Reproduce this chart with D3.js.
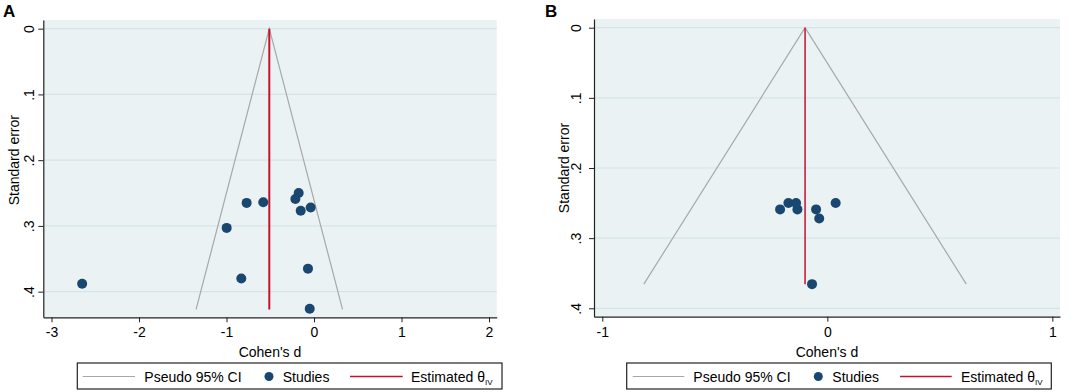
<!DOCTYPE html>
<html>
<head>
<meta charset="utf-8">
<script src="https://cdn.jsdelivr.net/npm/d3@7"></script>
<style>
  body { margin: 0; background: #fff; }
  svg { display: block; font-family: "Liberation Sans", Arial, sans-serif; }
</style>
</head>
<body>
<svg id="chart" width="1084" height="392"></svg>
<script>
// panel A: studies (Cohen's d, standard error)
const studiesA_d = [-2.65, -0.77, -0.58, -0.175, -0.213, -0.038, -0.152, -0.998, -0.831, -0.069, -0.049]
const studiesA_se = [0.388, 0.265, 0.264, 0.250, 0.259, 0.272, 0.277, 0.303, 0.380, 0.365, 0.426]
const thetaA = -0.511
const seMaxA = 0.427
const xTicksA = [-3, -2, -1, 0, 1, 2]

// panel B
const studiesB_d = [-0.210, -0.173, -0.139, -0.133, -0.050, -0.036, 0.037, -0.068]
const studiesB_se = [0.259, 0.250, 0.250, 0.259, 0.259, 0.272, 0.250, 0.3656]
const thetaB = -0.099
const seMaxB = 0.3656
const xTicksB = [-1, 0, 1]

const yTicks = [0, 0.1, 0.2, 0.3, 0.4]
const yTickLabels = ["0", ".1", ".2", ".3", ".4"]
const legendLabels = ["Pseudo 95% CI", "Studies", "Estimated θ"]

const svg = d3.select("#chart")

const drawFunnel = (opts) => {
  const g = svg.append("g")
  const x = d3.scaleLinear().domain(opts.xDomain).range(opts.xRange)
  const y = d3.scaleLinear().domain(opts.yDomain).range(opts.yRange)
  const [x0, x1] = opts.xRange
  const [y0, y1] = opts.yRange

  // plot area
  g.append("rect")
    .attr("x", x0).attr("y", y0)
    .attr("width", x1 - x0).attr("height", y1 - y0)
    .attr("fill", "#eaf2f3")

  // grid
  g.selectAll(".grid")
    .data(yTicks)
    .join("line")
    .attr("x1", x0).attr("x2", x1)
    .attr("y1", (d) => y(d)).attr("y2", (d) => y(d))
    .attr("stroke", "#d6e4ea")
    .attr("stroke-width", 1.2)

  // funnel
  const funnel = [
    [opts.theta - 1.96 * opts.seMax, opts.seMax],
    [opts.theta, 0],
    [opts.theta + 1.96 * opts.seMax, opts.seMax],
  ]
  const line = d3.line().x((d) => x(d[0])).y((d) => y(d[1]))
  g.append("path")
    .attr("d", line(funnel))
    .attr("fill", "none")
    .attr("stroke", "#a8a8a8")
    .attr("stroke-width", 1.2)

  g.append("line")
    .attr("x1", x(opts.theta)).attr("x2", x(opts.theta))
    .attr("y1", y(0)).attr("y2", y(opts.seMax))
    .attr("stroke", "#c8102e")
    .attr("stroke-width", opts.redWidth)

  // studies
  g.selectAll(".study")
    .data(opts.d.map((d, i) => ({ d, se: opts.se[i] })))
    .join("circle")
    .attr("cx", (p) => x(p.d))
    .attr("cy", (p) => y(p.se))
    .attr("r", 5)
    .attr("fill", "#1a476f")

  // x axis
  const xAxis = g.append("g")
    .attr("transform", `translate(0,${y1})`)
    .call(d3.axisBottom(x).tickValues(opts.xTicks).tickSize(5).tickSizeOuter(0).tickFormat(d3.format("d")))
  xAxis.select(".domain").attr("stroke", "#222").attr("stroke-width", 1.2)
  xAxis.selectAll(".tick line").attr("stroke", "#222")
  xAxis.selectAll(".tick text")
    .attr("font-size", 14).attr("fill", "#000")
    .attr("font-family", "Liberation Sans, Arial, sans-serif")
    .attr("dy", "0.85em")
    .text((d) => (d < 0 ? "-" + Math.abs(d) : d))

  // y axis, labels rotated like Stata
  const yAxis = g.append("g")
    .attr("transform", `translate(${x0},0)`)
    .call(d3.axisLeft(y).tickValues(yTicks).tickSize(5).tickSizeOuter(0).tickFormat((d, i) => yTickLabels[i]))
  yAxis.select(".domain").attr("stroke", "#222").attr("stroke-width", 1.2)
  yAxis.selectAll(".tick line").attr("stroke", "#222")
  yAxis.selectAll(".tick text")
    .attr("font-size", 14).attr("fill", "#000")
    .attr("font-family", "Liberation Sans, Arial, sans-serif")
    .attr("x", null).attr("dy", null)
    .attr("text-anchor", "middle")
    .attr("transform", `translate(${-opts.labelOffset},0) rotate(-90)`)

  // axis titles
  g.append("text")
    .attr("x", (x0 + x1) / 2).attr("y", 357)
    .attr("text-anchor", "middle")
    .attr("font-size", 14)
    .text("Cohen's d")

  g.append("text")
    .attr("transform", `translate(${x0 - opts.titleOffset},${(y(0) + y(0.4)) / 2}) rotate(-90)`)
    .attr("text-anchor", "middle")
    .attr("font-size", 14)
    .text("Standard error")

  // panel letter
  g.append("text")
    .attr("x", opts.letterX).attr("y", 17)
    .attr("font-size", 17).attr("font-weight", "bold")
    .text(opts.letter)

  // legend
  const lg = opts.legend
  g.append("rect")
    .attr("x", lg.x0).attr("y", 363)
    .attr("width", lg.x1 - lg.x0).attr("height", 26)
    .attr("fill", "#fff")
    .attr("stroke", "#222")
    .attr("stroke-width", 1.2)
  const ly = 376.5
  g.append("line")
    .attr("x1", lg.grayLine[0]).attr("x2", lg.grayLine[1])
    .attr("y1", ly).attr("y2", ly)
    .attr("stroke", "#a8a8a8").attr("stroke-width", 1.2)
  g.append("text")
    .attr("x", lg.grayText).attr("y", ly + 5)
    .attr("font-size", 14).text(legendLabels[0])
  g.append("circle")
    .attr("cx", lg.dot).attr("cy", ly).attr("r", 4.5)
    .attr("fill", "#1a476f")
  g.append("text")
    .attr("x", lg.dotText).attr("y", ly + 5)
    .attr("font-size", 14).text(legendLabels[1])
  g.append("line")
    .attr("x1", lg.redLine[0]).attr("x2", lg.redLine[1])
    .attr("y1", ly).attr("y2", ly)
    .attr("stroke", "#c8102e").attr("stroke-width", 1.5)
  const t = g.append("text")
    .attr("x", lg.redText).attr("y", ly + 5)
    .attr("font-size", 14)
  t.append("tspan").text(legendLabels[2])
  t.append("tspan").attr("font-size", 8).attr("dy", 3).text("IV")
}

drawFunnel({
  letter: "A",
  letterX: 3,
  d: studiesA_d,
  se: studiesA_se,
  theta: thetaA,
  seMax: seMaxA,
  xTicks: xTicksA,
  xDomain: [-3.094, 2.088],
  xRange: [43.3, 496.7],
  yDomain: [-0.0132, 0.439],
  yRange: [20, 317.3],
  redWidth: 2,
  labelOffset: 9,
  titleOffset: 24,
  legend: {
    x0: 77.3, x1: 502,
    grayLine: [82.7, 135], grayText: 144.3,
    dot: 269, dotText: 282.7,
    redLine: [350, 402.7], redText: 411,
  },
})

drawFunnel({
  letter: "B",
  letterX: 545,
  d: studiesB_d,
  se: studiesB_se,
  theta: thetaB,
  seMax: seMaxB,
  xTicks: xTicksB,
  xDomain: [-1.037, 1.034],
  xRange: [594, 1060],
  yDomain: [-0.0124, 0.412],
  yRange: [19, 316.7],
  redWidth: 1.5,
  labelOffset: 13,
  titleOffset: 25,
  legend: {
    x0: 626.7, x1: 1051.3,
    grayLine: [632.7, 684.3], grayText: 693.3,
    dot: 818.3, dotText: 832.3,
    redLine: [900, 951.7], redText: 961,
  },
})
</script>
</body>
</html>
